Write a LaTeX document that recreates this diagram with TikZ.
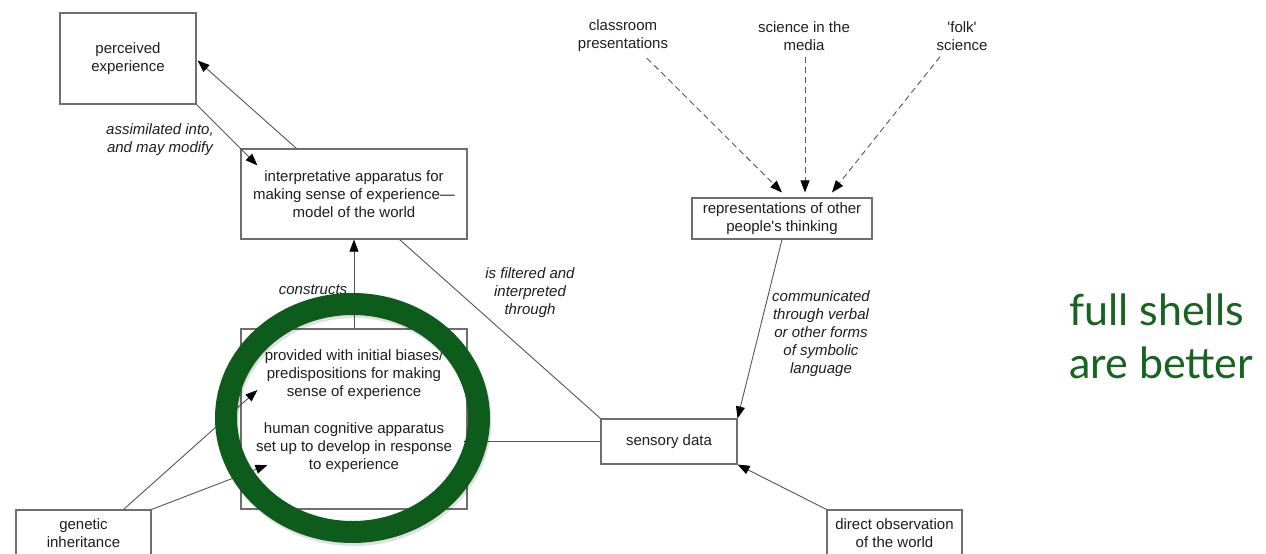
\documentclass[tikz,border=0pt]{standalone}
\usepackage{fontspec}
\setmainfont{Liberation Sans}
\newfontfamily\notefont{Lato}
\usetikzlibrary{arrows.meta,calc}

\definecolor{boxline}{RGB}{110,110,110}
\definecolor{conn}{RGB}{85,85,85}
\definecolor{ink}{RGB}{30,30,30}
\definecolor{ringgreen}{RGB}{14,92,28}
\definecolor{notegreen}{RGB}{22,100,32}

\tikzset{
  box/.style={draw=boxline, line width=1.1pt, fill=white, text=ink, align=center,
              inner sep=0pt, font=\fontsize{15}{18}\selectfont},
  plain/.style={text=ink, align=center, inner sep=0pt, font=\fontsize{15}{18}\selectfont},
  note/.style={text=ink, align=center, inner sep=0pt, font=\fontsize{15}{18}\selectfont\itshape},
  link/.style={draw=conn, line width=0.9pt},
  arrowlink/.style={link, -{Triangle[length=12pt,width=9pt,color=black]}},
  headonly/.style={draw=none, -{Triangle[length=12pt,width=9pt,color=black]}},
  dashlink/.style={arrowlink, dash pattern=on 6pt off 4pt},
  ring/.style={draw=ringgreen, line width=22pt},
  slogan/.style={text=notegreen, anchor=base west, inner sep=0pt,
                 font=\notefont\fontsize{43}{53}\selectfont}
}

\begin{document}
\begin{tikzpicture}[x=1pt, y=-1pt]
  \clip (0,0) rectangle (1266,554);
  \fill[white] (0,0) rectangle (1266,554);

  % boxes
  \node[box, minimum width=136pt, minimum height=91pt] (perc) at (128,58.5) {perceived\\experience};
  \node[box, minimum width=226pt, minimum height=90pt] (interp) at (354,194)
    {interpretative apparatus for\\making sense of experience---\\model of the world};
  \node[box, minimum width=226pt, minimum height=180pt] (cog) at (354,419) {};
  \node[plain] (cogtxt) at (354,411)
    {provided with initial biases/\\predispositions for making\\sense of experience\\[19pt]
     human cognitive apparatus\\set up to develop in response\\to experience};
  \node[box, minimum width=180pt, minimum height=41pt] (rep) at (782,218.5)
    {representations of other\\people\textquotesingle s thinking};
  \node[box, minimum width=136pt, minimum height=45pt] (sens) at (669,441.5) {sensory data};
  \node[box, minimum width=135pt, minimum height=47pt] (direct) at (894.5,533.5)
    {direct observation\\of the world};
  \node[box, minimum width=135pt, minimum height=47pt] (genetic) at (83.5,533.5)
    {genetic\\inheritance};

  % sources of other people's thinking
  \node[plain] (class) at (623,36) {classroom\\presentations};
  \node[plain] (media) at (804,36) {science in the\\media};
  \node[plain] (folk) at (962,36) {\textquotesingle folk\textquotesingle\\science};

  % connector labels
  \node[note] (assim) at (160,140) {assimilated into,\\and may modify};
  \node[note] (constr) at (313,290) {constructs};
  \node[note] (filt) at (530,292.5) {is filtered and\\interpreted\\through};
  \node[note] (comm) at (821,333.5) {communicated\\through verbal\\or other forms\\of symbolic\\language};

  % end points of the arrows that finish inside the ring
  \coordinate (genA) at ($(genetic.north)+(40,0)$);
  \coordinate (tipA) at ($(cog.west)+(17,-29)$);
  \coordinate (tipB) at ($(cog.west)+(27,46)$);
  \coordinate (tipC) at ($(cog.east |- sens.west)+(-4,0)$);

  % connectors
  \draw[arrowlink] ($(interp.north west)+(56,0)$) -- ($(perc.east)+(1,2)$);
  \draw[arrowlink] (perc.south east) -- ($(interp.north west)+(17,17)$);
  \draw[arrowlink] (cog.north) -- (interp.south);
  \draw[link] ($(interp.south east)+(-68,0)$) -- (sens.north west);
  \draw[arrowlink] (genA) -- (tipA);
  \draw[arrowlink] (genetic.north east) -- (tipB);
  \draw[arrowlink] (sens.west) -- (tipC);
  \draw[arrowlink] (rep.south) -- (sens.north east);
  \draw[arrowlink] (direct.north west) -- (sens.south east);

  \draw[dashlink] ($(class.south)+(24,6)$) -- ($(rep.north)+(0,-5)$);
  \draw[dashlink] ($(media.south)+(1,6)$) -- ($(rep.north)+(23,-5)$);
  \draw[dashlink] ($(folk.south)+(-22,6)$) -- ($(rep.north)+(50,-5)$);

  % highlight ring
  \draw[line width=22pt, draw=black, opacity=0.12] (354,421) ellipse [x radius=126.5pt, y radius=114pt];
  \draw[ring] (352.5,418) ellipse [x radius=126.5pt, y radius=114pt];

  % arrowheads of the arrows that end inside the ring, drawn over it
  \draw[headonly] ($(tipA)!12pt!(genA)$) -- (tipA);
  \draw[headonly] ($(tipB)!12pt!(genetic.north east)$) -- (tipB);
  \draw[headonly] ($(tipC)!12pt!(sens.west)$) -- (tipC);

  % side remark
  \node[slogan] (fs1) at (1069,325) {full shells};
  \node[slogan] (fs2) at (1069,378) {are better};
\end{tikzpicture}
\end{document}
